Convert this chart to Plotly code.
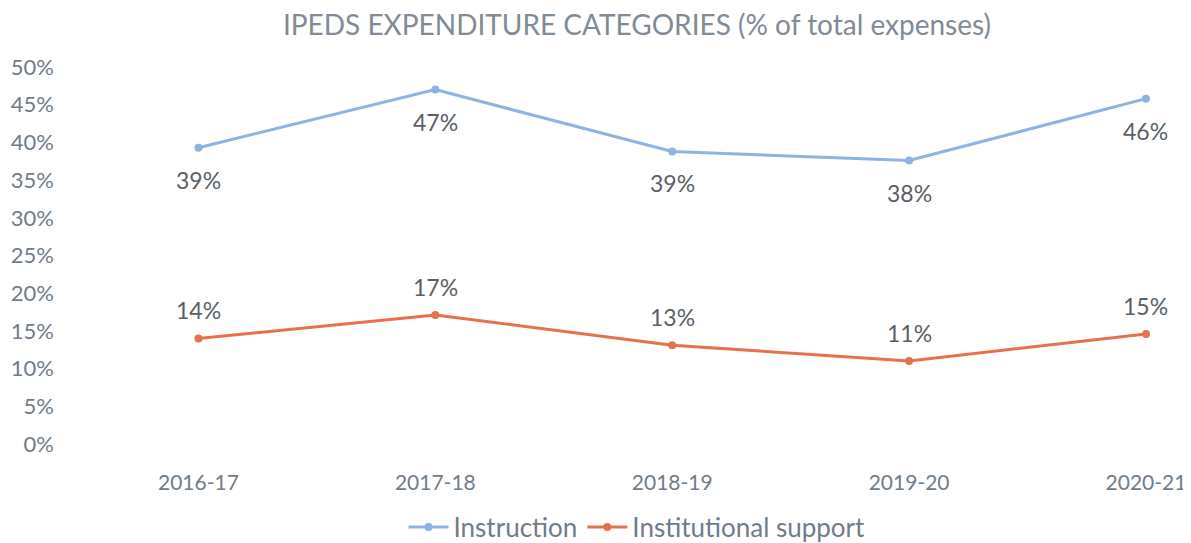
import plotly.graph_objects as go

years = ["2016-17", "2017-18", "2018-19", "2019-20", "2020-21"]
instruction = [39.3, 47.0, 38.8, 37.6, 45.8]
inst_support = [14.0, 17.1, 13.1, 11.0, 14.6]
y_ticks = [0, 5, 10, 15, 20, 25, 30, 35, 40, 45, 50]

FONT = "Lato"
TICK_COLOR = "#6f7c8a"
LABEL_COLOR = "#5a5f66"
BLUE = "#8db3e2"
ORANGE = "#e8704d"

# page body has an 8px default margin, so the figure is sized/offset accordingly
W, H = 1183, 535
L, T, B = 72, 59, 99
PW, PH = W - L, H - T - B

fig = go.Figure()
fig.add_trace(go.Scatter(
    x=years, y=instruction, name="Instruction", mode="lines+markers",
    line=dict(color=BLUE, width=3), marker=dict(color=BLUE, size=8),
))
fig.add_trace(go.Scatter(
    x=years, y=inst_support, name="Institutional support", mode="lines+markers",
    line=dict(color=ORANGE, width=3), marker=dict(color=ORANGE, size=8),
))

for x, v in zip(years, instruction):
    fig.add_annotation(x=x, y=v, text=f"{round(v)}%", showarrow=False, yshift=-32,
                       font=dict(family=FONT, size=23, color=LABEL_COLOR))
for x, v in zip(years, inst_support):
    fig.add_annotation(x=x, y=v, text=f"{round(v)}%", showarrow=False, yshift=28,
                       font=dict(family=FONT, size=23, color=LABEL_COLOR))

fig.update_layout(
    width=W, height=H,
    margin=dict(l=L, r=0, t=T, b=B, autoexpand=False),
    paper_bgcolor="white", plot_bgcolor="white",
    font=dict(family=FONT, color=TICK_COLOR),
    title=dict(text="IPEDS EXPENDITURE CATEGORIES (% of total expenses)",
               x=629/W, xref="container", xanchor="center",
               y=1-17/H, yref="container", yanchor="middle",
               font=dict(family=FONT, size=28, color="#7f8b97")),
    xaxis=dict(range=[-0.5, 4.19], showgrid=False, zeroline=False, showline=False,
               ticks="", automargin=False,
               tickfont=dict(size=21, color=TICK_COLOR), ticklabelstandoff=24),
    yaxis=dict(range=[0, 50], tickvals=y_ticks, ticktext=[f"{t}%" for t in y_ticks],
               showgrid=False, zeroline=False, showline=False, ticks="", automargin=False,
               tickfont=dict(size=22, color=TICK_COLOR), ticklabelstandoff=25),
    legend=dict(orientation="h", x=(629-L)/PW, xanchor="center",
                y=-83/PH, yanchor="middle", itemwidth=40,
                font=dict(family=FONT, size=26, color=TICK_COLOR)),
    showlegend=True,
)

fig.write_html("out.html")
